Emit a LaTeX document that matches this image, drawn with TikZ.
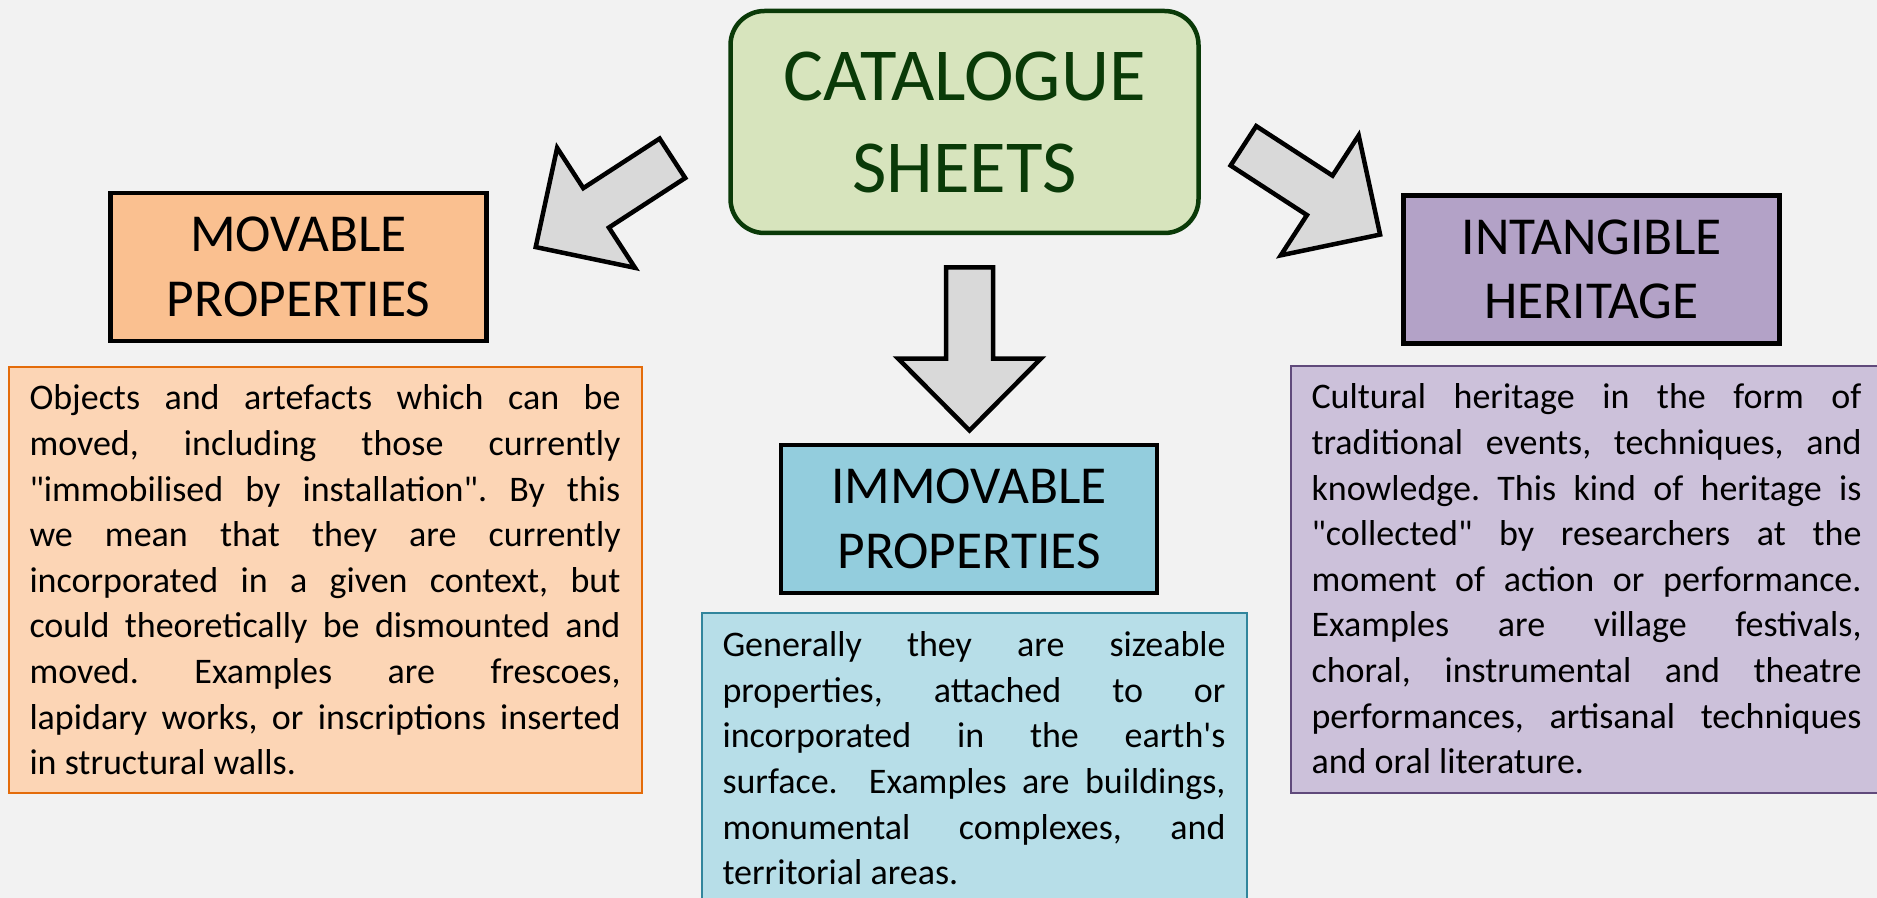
\documentclass[tikz,border=0pt]{standalone}
\usepackage{fontspec}
\setmainfont[Ligatures=TeXOff]{Carlito}
\definecolor{pagebg}{HTML}{F2F2F2}
\definecolor{sheetfill}{HTML}{D7E4BD}
\definecolor{sheetline}{HTML}{0A3A08}
\definecolor{movfill}{HTML}{FAC090}
\definecolor{movtextfill}{HTML}{FCD5B5}
\definecolor{movline}{HTML}{E46C0A}
\definecolor{immfill}{HTML}{93CDDD}
\definecolor{immtextfill}{HTML}{B7DEE8}
\definecolor{immline}{HTML}{31859C}
\definecolor{intfill}{HTML}{B3A2C7}
\definecolor{inttextfill}{HTML}{CCC1DA}
\definecolor{intline}{HTML}{604A7B}
\definecolor{arrowfill}{HTML}{D9D9D9}
\frenchspacing
\hyphenpenalty=10000
\tolerance=10000
\tikzset{
  sheetbox/.style={draw=sheetline,fill=sheetfill,line width=2.25pt,rounded corners=17pt,
    minimum width=234pt,minimum height=111pt,inner sep=0pt,text=sheetline,align=center,
    font=\fontsize{37.4}{46}\selectfont},
  headbox/.style={draw=black,line width=2.25pt,minimum width=188pt,minimum height=74pt,
    inner sep=0pt,align=center,font=\fontsize{26.7}{32.3}\selectfont},
  descbox/.style={line width=1pt,anchor=north west,align=justify,inner xsep=10.5pt,inner ysep=0pt,
    font=\fontsize{18}{22.8}\selectfont},
  fatarrow/.pic={
    \draw[fill=arrowfill,line width=2.25pt,miter limit=4]
      (0,-23.5) -- (91,-23.5) -- (91,-71.5) -- (163,0) -- (91,71.5) -- (91,23.5) -- (0,23.5) -- cycle;
  }
}
\begin{document}
\begin{tikzpicture}[x=0.5pt,y=-0.5pt]
\useasboundingbox (0,0) rectangle (1877,898);
\clip (0,0) rectangle (1877,898);
\fill[pagebg] (0,0) rectangle (1877,898);

% title
\node[sheetbox] (sheets) at (964.5,122) {CATALOGUE\\SHEETS};

% kinds of heritage
\node[headbox,fill=movfill] (movable) at (298.5,267) {MOVABLE\\PROPERTIES};
\node[headbox,fill=immfill] (immovable) at (969,519) {IMMOVABLE\\PROPERTIES};
\node[headbox,fill=intfill] (intangible) at (1591.5,269.5) {INTANGIBLE\\HERITAGE};

% descriptions
\node[descbox,draw=movline,fill=movtextfill,text width=295.5pt,minimum height=213pt] (movtext) at (7.5,366)
  {Objects and artefacts which can be\linebreak
   moved, including those currently\linebreak
   "immobilised by installation". By this\linebreak
   we mean that they are currently\linebreak
   incorporated in a given context, but\linebreak
   could theoretically be dismounted and\linebreak
   moved. Examples are frescoes,\linebreak
   lapidary works, or inscriptions inserted\linebreak
   in structural walls.};
\node[descbox,draw=immline,fill=immtextfill,text width=251.5pt,minimum height=145.75pt] (immtext) at (700.5,611.5)
  {Generally they are sizeable\linebreak
   properties, attached to or\linebreak
   incorporated in the earth's\linebreak
   surface.\ \ Examples are buildings,\linebreak
   monumental complexes, and\linebreak
   territorial areas.};
\node[descbox,draw=intline,fill=inttextfill,text width=275pt,minimum height=213.5pt] (inttext) at (1289.5,364.5)
  {Cultural heritage in the form of\linebreak
   traditional events, techniques, and\linebreak
   knowledge. This kind of heritage is\linebreak
   "collected" by researchers at the\linebreak
   moment of action or performance.\linebreak
   Examples are village festivals,\linebreak
   choral, instrumental and theatre\linebreak
   performances, artisanal techniques\linebreak
   and oral literature.};

% block arrows
\pic[rotate=213] at (672.4,158.3) {fatarrow};
\pic[rotate=-90] at (969.5,267.5) {fatarrow};
\pic[rotate=-33] at (1243.4,145.8) {fatarrow};
\end{tikzpicture}
\end{document}
